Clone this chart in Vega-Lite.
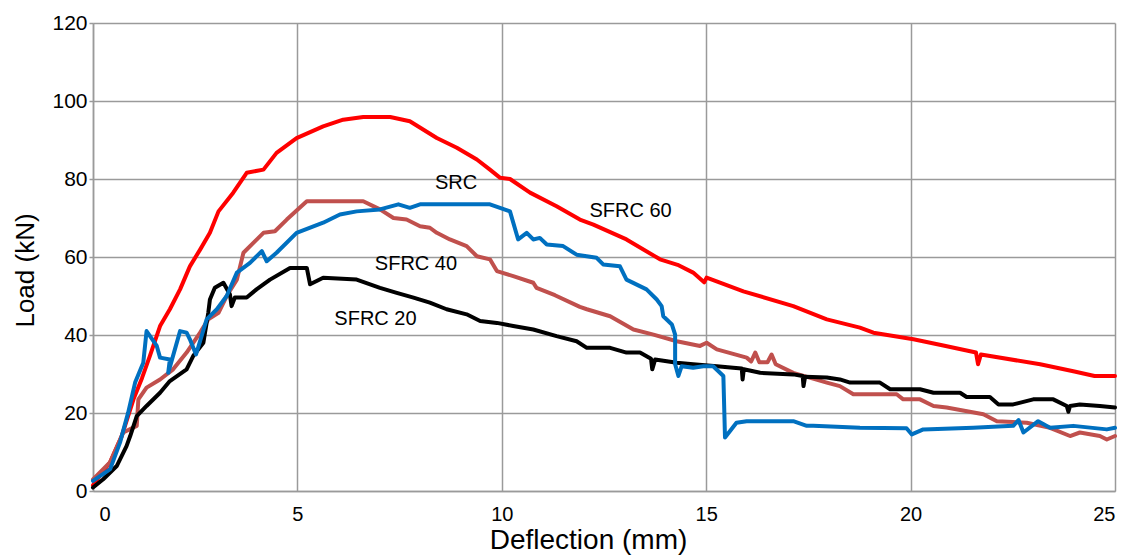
{
  "$schema": "https://vega.github.io/schema/vega-lite/v6.json",
  "autosize": "none",
  "width": 1022,
  "height": 468,
  "padding": {"left": 93, "top": 23, "right": 18, "bottom": 64},
  "background": "white",
  "config": {
    "view": {"stroke": null},
    "font": "Liberation Sans",
    "axis": {
      "labelFont": "Liberation Sans",
      "titleFont": "Liberation Sans",
      "labelColor": "#000000",
      "titleColor": "#000000",
      "titleFontWeight": "normal",
      "gridColor": "#9a9a9a",
      "gridWidth": 1.5,
      "gridOpacity": 1,
      "domainColor": "#9a9a9a",
      "domainWidth": 1.5,
      "tickColor": "#9a9a9a",
      "tickWidth": 1.5
    }
  },
  "datasets": {
    "curves": [
      {"s": "SFRC 60", "x": 0, "y": 1.5}, {"s": "SFRC 60", "x": 0.42, "y": 7.4}, {"s": "SFRC 60", "x": 0.7, "y": 14}, {"s": "SFRC 60", "x": 0.99, "y": 23.5}, {"s": "SFRC 60", "x": 1.2, "y": 29}, {"s": "SFRC 60", "x": 1.39, "y": 34.6}, {"s": "SFRC 60", "x": 1.64, "y": 42.3}, {"s": "SFRC 60", "x": 1.88, "y": 46.6}, {"s": "SFRC 60", "x": 2.13, "y": 51.7}, {"s": "SFRC 60", "x": 2.37, "y": 57.6}, {"s": "SFRC 60", "x": 2.62, "y": 61.9}, {"s": "SFRC 60", "x": 2.86, "y": 66.2}, {"s": "SFRC 60", "x": 3.07, "y": 71.7}, {"s": "SFRC 60", "x": 3.43, "y": 76.5}, {"s": "SFRC 60", "x": 3.76, "y": 81.6}, {"s": "SFRC 60", "x": 4.17, "y": 82.4}, {"s": "SFRC 60", "x": 4.49, "y": 86.7}, {"s": "SFRC 60", "x": 4.98, "y": 90.5}, {"s": "SFRC 60", "x": 5.63, "y": 93.5}, {"s": "SFRC 60", "x": 6.12, "y": 95.2}, {"s": "SFRC 60", "x": 6.61, "y": 95.9}, {"s": "SFRC 60", "x": 7.27, "y": 95.9}, {"s": "SFRC 60", "x": 7.75, "y": 94.8}, {"s": "SFRC 60", "x": 8.41, "y": 90.5}, {"s": "SFRC 60", "x": 8.9, "y": 88.0}, {"s": "SFRC 60", "x": 9.39, "y": 85.0}, {"s": "SFRC 60", "x": 9.71, "y": 82.4}, {"s": "SFRC 60", "x": 9.96, "y": 80.3}, {"s": "SFRC 60", "x": 10.2, "y": 80.0}, {"s": "SFRC 60", "x": 10.69, "y": 76.5}, {"s": "SFRC 60", "x": 11.34, "y": 73.0}, {"s": "SFRC 60", "x": 11.91, "y": 69.6}, {"s": "SFRC 60", "x": 12.24, "y": 68.3}, {"s": "SFRC 60", "x": 13.05, "y": 64.5}, {"s": "SFRC 60", "x": 13.87, "y": 59.4}, {"s": "SFRC 60", "x": 14.3, "y": 58.0}, {"s": "SFRC 60", "x": 14.68, "y": 56.0}, {"s": "SFRC 60", "x": 14.95, "y": 53.5}, {"s": "SFRC 60", "x": 15.01, "y": 54.7}, {"s": "SFRC 60", "x": 15.91, "y": 51.2}, {"s": "SFRC 60", "x": 17.13, "y": 47.4}, {"s": "SFRC 60", "x": 17.95, "y": 44.0}, {"s": "SFRC 60", "x": 18.76, "y": 41.9}, {"s": "SFRC 60", "x": 19.09, "y": 40.6}, {"s": "SFRC 60", "x": 20.07, "y": 38.9}, {"s": "SFRC 60", "x": 20.8, "y": 37.3}, {"s": "SFRC 60", "x": 21.6, "y": 35.5}, {"s": "SFRC 60", "x": 21.65, "y": 32.5}, {"s": "SFRC 60", "x": 21.72, "y": 35.0}, {"s": "SFRC 60", "x": 23.17, "y": 32.5}, {"s": "SFRC 60", "x": 23.98, "y": 30.7}, {"s": "SFRC 60", "x": 24.5, "y": 29.5}, {"s": "SFRC 60", "x": 25.0, "y": 29.5},

      {"s": "SFRC 40", "x": 0, "y": 3.0}, {"s": "SFRC 40", "x": 0.42, "y": 7.4}, {"s": "SFRC 40", "x": 0.74, "y": 15.0}, {"s": "SFRC 40", "x": 1.07, "y": 16.7}, {"s": "SFRC 40", "x": 1.11, "y": 23.5}, {"s": "SFRC 40", "x": 1.31, "y": 26.5}, {"s": "SFRC 40", "x": 1.64, "y": 28.6}, {"s": "SFRC 40", "x": 1.96, "y": 31.2}, {"s": "SFRC 40", "x": 2.29, "y": 35.5}, {"s": "SFRC 40", "x": 2.62, "y": 40.6}, {"s": "SFRC 40", "x": 2.82, "y": 44.0}, {"s": "SFRC 40", "x": 3.07, "y": 45.7}, {"s": "SFRC 40", "x": 3.27, "y": 50.0}, {"s": "SFRC 40", "x": 3.52, "y": 54.2}, {"s": "SFRC 40", "x": 3.68, "y": 61.1}, {"s": "SFRC 40", "x": 4.17, "y": 66.2}, {"s": "SFRC 40", "x": 4.45, "y": 66.6}, {"s": "SFRC 40", "x": 4.74, "y": 69.6}, {"s": "SFRC 40", "x": 5.23, "y": 74.3}, {"s": "SFRC 40", "x": 6.61, "y": 74.3}, {"s": "SFRC 40", "x": 7.02, "y": 72.2}, {"s": "SFRC 40", "x": 7.35, "y": 70.0}, {"s": "SFRC 40", "x": 7.67, "y": 69.6}, {"s": "SFRC 40", "x": 8.0, "y": 67.9}, {"s": "SFRC 40", "x": 8.24, "y": 67.5}, {"s": "SFRC 40", "x": 8.41, "y": 66.2}, {"s": "SFRC 40", "x": 8.73, "y": 64.5}, {"s": "SFRC 40", "x": 9.14, "y": 62.8}, {"s": "SFRC 40", "x": 9.39, "y": 60.2}, {"s": "SFRC 40", "x": 9.71, "y": 59.4}, {"s": "SFRC 40", "x": 9.88, "y": 56.4}, {"s": "SFRC 40", "x": 10.28, "y": 55.1}, {"s": "SFRC 40", "x": 10.77, "y": 53.4}, {"s": "SFRC 40", "x": 10.85, "y": 52.1}, {"s": "SFRC 40", "x": 11.3, "y": 50.2}, {"s": "SFRC 40", "x": 11.91, "y": 47.2}, {"s": "SFRC 40", "x": 12.08, "y": 46.6}, {"s": "SFRC 40", "x": 12.65, "y": 44.8}, {"s": "SFRC 40", "x": 13.22, "y": 41.4}, {"s": "SFRC 40", "x": 13.71, "y": 40.1}, {"s": "SFRC 40", "x": 14.28, "y": 38.4}, {"s": "SFRC 40", "x": 14.85, "y": 37.2}, {"s": "SFRC 40", "x": 15.01, "y": 38.0}, {"s": "SFRC 40", "x": 15.26, "y": 36.3}, {"s": "SFRC 40", "x": 15.99, "y": 34.2}, {"s": "SFRC 40", "x": 16.1, "y": 33.2}, {"s": "SFRC 40", "x": 16.2, "y": 35.5}, {"s": "SFRC 40", "x": 16.3, "y": 33.0}, {"s": "SFRC 40", "x": 16.5, "y": 33.0}, {"s": "SFRC 40", "x": 16.6, "y": 35.0}, {"s": "SFRC 40", "x": 16.7, "y": 32.5}, {"s": "SFRC 40", "x": 17.13, "y": 30.3}, {"s": "SFRC 40", "x": 17.95, "y": 27.8}, {"s": "SFRC 40", "x": 18.27, "y": 26.9}, {"s": "SFRC 40", "x": 18.6, "y": 24.8}, {"s": "SFRC 40", "x": 19.66, "y": 24.8}, {"s": "SFRC 40", "x": 19.82, "y": 23.5}, {"s": "SFRC 40", "x": 20.23, "y": 23.5}, {"s": "SFRC 40", "x": 20.56, "y": 21.8}, {"s": "SFRC 40", "x": 20.88, "y": 21.4}, {"s": "SFRC 40", "x": 21.78, "y": 19.7}, {"s": "SFRC 40", "x": 22.11, "y": 17.9}, {"s": "SFRC 40", "x": 22.84, "y": 17.5}, {"s": "SFRC 40", "x": 23.41, "y": 16.2}, {"s": "SFRC 40", "x": 23.9, "y": 14.1}, {"s": "SFRC 40", "x": 24.14, "y": 15.0}, {"s": "SFRC 40", "x": 24.63, "y": 14.1}, {"s": "SFRC 40", "x": 24.8, "y": 13.2}, {"s": "SFRC 40", "x": 25.0, "y": 14.1},

      {"s": "SFRC 20", "x": 0, "y": 0.9}, {"s": "SFRC 20", "x": 0.25, "y": 3.0}, {"s": "SFRC 20", "x": 0.58, "y": 6.4}, {"s": "SFRC 20", "x": 0.82, "y": 11.5}, {"s": "SFRC 20", "x": 0.91, "y": 14.1}, {"s": "SFRC 20", "x": 1.07, "y": 19.2}, {"s": "SFRC 20", "x": 1.31, "y": 21.8}, {"s": "SFRC 20", "x": 1.64, "y": 25.2}, {"s": "SFRC 20", "x": 1.88, "y": 28.2}, {"s": "SFRC 20", "x": 2.29, "y": 31.2}, {"s": "SFRC 20", "x": 2.45, "y": 34.6}, {"s": "SFRC 20", "x": 2.7, "y": 38.0}, {"s": "SFRC 20", "x": 2.82, "y": 45.7}, {"s": "SFRC 20", "x": 2.86, "y": 49.1}, {"s": "SFRC 20", "x": 2.98, "y": 52.1}, {"s": "SFRC 20", "x": 3.19, "y": 53.4}, {"s": "SFRC 20", "x": 3.35, "y": 50.4}, {"s": "SFRC 20", "x": 3.39, "y": 47.4}, {"s": "SFRC 20", "x": 3.47, "y": 49.6}, {"s": "SFRC 20", "x": 3.76, "y": 49.6}, {"s": "SFRC 20", "x": 4.0, "y": 51.7}, {"s": "SFRC 20", "x": 4.33, "y": 54.2}, {"s": "SFRC 20", "x": 4.82, "y": 57.2}, {"s": "SFRC 20", "x": 5.23, "y": 57.2}, {"s": "SFRC 20", "x": 5.31, "y": 53.0}, {"s": "SFRC 20", "x": 5.63, "y": 54.7}, {"s": "SFRC 20", "x": 6.45, "y": 54.2}, {"s": "SFRC 20", "x": 7.02, "y": 52.1}, {"s": "SFRC 20", "x": 7.43, "y": 50.8}, {"s": "SFRC 20", "x": 7.84, "y": 49.6}, {"s": "SFRC 20", "x": 8.24, "y": 48.3}, {"s": "SFRC 20", "x": 8.65, "y": 46.6}, {"s": "SFRC 20", "x": 9.14, "y": 45.3}, {"s": "SFRC 20", "x": 9.47, "y": 43.6}, {"s": "SFRC 20", "x": 9.88, "y": 43.1}, {"s": "SFRC 20", "x": 10.28, "y": 42.3}, {"s": "SFRC 20", "x": 10.77, "y": 41.4}, {"s": "SFRC 20", "x": 11.34, "y": 39.7}, {"s": "SFRC 20", "x": 11.83, "y": 38.4}, {"s": "SFRC 20", "x": 12.08, "y": 36.7}, {"s": "SFRC 20", "x": 12.65, "y": 36.7}, {"s": "SFRC 20", "x": 13.05, "y": 35.5}, {"s": "SFRC 20", "x": 13.38, "y": 35.5}, {"s": "SFRC 20", "x": 13.65, "y": 33.9}, {"s": "SFRC 20", "x": 13.68, "y": 31.2}, {"s": "SFRC 20", "x": 13.75, "y": 33.7}, {"s": "SFRC 20", "x": 14.28, "y": 32.9}, {"s": "SFRC 20", "x": 14.68, "y": 32.5}, {"s": "SFRC 20", "x": 15.26, "y": 32.0}, {"s": "SFRC 20", "x": 15.66, "y": 31.6}, {"s": "SFRC 20", "x": 15.87, "y": 31.4}, {"s": "SFRC 20", "x": 15.89, "y": 28.6}, {"s": "SFRC 20", "x": 15.92, "y": 31.2}, {"s": "SFRC 20", "x": 16.32, "y": 30.3}, {"s": "SFRC 20", "x": 17.13, "y": 29.9}, {"s": "SFRC 20", "x": 17.36, "y": 29.5}, {"s": "SFRC 20", "x": 17.38, "y": 26.9}, {"s": "SFRC 20", "x": 17.42, "y": 29.3}, {"s": "SFRC 20", "x": 17.95, "y": 29.1}, {"s": "SFRC 20", "x": 18.27, "y": 28.6}, {"s": "SFRC 20", "x": 18.52, "y": 27.8}, {"s": "SFRC 20", "x": 19.25, "y": 27.8}, {"s": "SFRC 20", "x": 19.5, "y": 26.1}, {"s": "SFRC 20", "x": 20.23, "y": 26.1}, {"s": "SFRC 20", "x": 20.56, "y": 25.2}, {"s": "SFRC 20", "x": 21.21, "y": 25.2}, {"s": "SFRC 20", "x": 21.37, "y": 24.1}, {"s": "SFRC 20", "x": 21.94, "y": 24.1}, {"s": "SFRC 20", "x": 22.15, "y": 22.2}, {"s": "SFRC 20", "x": 22.51, "y": 22.2}, {"s": "SFRC 20", "x": 23.0, "y": 23.5}, {"s": "SFRC 20", "x": 23.49, "y": 23.5}, {"s": "SFRC 20", "x": 23.82, "y": 21.8}, {"s": "SFRC 20", "x": 23.86, "y": 20.3}, {"s": "SFRC 20", "x": 23.9, "y": 21.8}, {"s": "SFRC 20", "x": 24.14, "y": 22.2}, {"s": "SFRC 20", "x": 24.63, "y": 21.8}, {"s": "SFRC 20", "x": 25.0, "y": 21.4},

      {"s": "SRC", "x": 0, "y": 2.6}, {"s": "SRC", "x": 0.42, "y": 5.6}, {"s": "SRC", "x": 0.66, "y": 12.4}, {"s": "SRC", "x": 0.86, "y": 20.1}, {"s": "SRC", "x": 1.03, "y": 27.8}, {"s": "SRC", "x": 1.23, "y": 32.9}, {"s": "SRC", "x": 1.31, "y": 41.0}, {"s": "SRC", "x": 1.56, "y": 37.2}, {"s": "SRC", "x": 1.64, "y": 34.2}, {"s": "SRC", "x": 1.88, "y": 33.7}, {"s": "SRC", "x": 1.84, "y": 30.3}, {"s": "SRC", "x": 2.13, "y": 41.0}, {"s": "SRC", "x": 2.29, "y": 40.6}, {"s": "SRC", "x": 2.37, "y": 38.9}, {"s": "SRC", "x": 2.52, "y": 35.0}, {"s": "SRC", "x": 2.78, "y": 44.0}, {"s": "SRC", "x": 3.03, "y": 46.6}, {"s": "SRC", "x": 3.27, "y": 50.0}, {"s": "SRC", "x": 3.52, "y": 56.0}, {"s": "SRC", "x": 3.84, "y": 58.5}, {"s": "SRC", "x": 4.13, "y": 61.5}, {"s": "SRC", "x": 4.25, "y": 58.9}, {"s": "SRC", "x": 4.49, "y": 61.1}, {"s": "SRC", "x": 4.98, "y": 66.2}, {"s": "SRC", "x": 5.63, "y": 68.8}, {"s": "SRC", "x": 6.04, "y": 70.9}, {"s": "SRC", "x": 6.45, "y": 71.7}, {"s": "SRC", "x": 7.02, "y": 72.2}, {"s": "SRC", "x": 7.47, "y": 73.5}, {"s": "SRC", "x": 7.75, "y": 72.6}, {"s": "SRC", "x": 8.0, "y": 73.5}, {"s": "SRC", "x": 9.71, "y": 73.5}, {"s": "SRC", "x": 10.2, "y": 71.7}, {"s": "SRC", "x": 10.4, "y": 64.5}, {"s": "SRC", "x": 10.61, "y": 66.2}, {"s": "SRC", "x": 10.77, "y": 64.5}, {"s": "SRC", "x": 10.93, "y": 64.9}, {"s": "SRC", "x": 11.1, "y": 63.2}, {"s": "SRC", "x": 11.5, "y": 62.8}, {"s": "SRC", "x": 11.83, "y": 60.6}, {"s": "SRC", "x": 12.32, "y": 59.8}, {"s": "SRC", "x": 12.48, "y": 58.1}, {"s": "SRC", "x": 12.89, "y": 57.6}, {"s": "SRC", "x": 13.05, "y": 54.2}, {"s": "SRC", "x": 13.54, "y": 51.7}, {"s": "SRC", "x": 13.79, "y": 49.1}, {"s": "SRC", "x": 13.91, "y": 47.4}, {"s": "SRC", "x": 13.95, "y": 44.8}, {"s": "SRC", "x": 14.16, "y": 42.7}, {"s": "SRC", "x": 14.24, "y": 40.1}, {"s": "SRC", "x": 14.24, "y": 32.5}, {"s": "SRC", "x": 14.32, "y": 29.5}, {"s": "SRC", "x": 14.4, "y": 32.0}, {"s": "SRC", "x": 14.68, "y": 31.6}, {"s": "SRC", "x": 14.93, "y": 32.0}, {"s": "SRC", "x": 15.17, "y": 32.0}, {"s": "SRC", "x": 15.42, "y": 29.5}, {"s": "SRC", "x": 15.46, "y": 13.7}, {"s": "SRC", "x": 15.74, "y": 17.5}, {"s": "SRC", "x": 15.99, "y": 17.9}, {"s": "SRC", "x": 17.13, "y": 17.9}, {"s": "SRC", "x": 17.46, "y": 16.7}, {"s": "SRC", "x": 17.62, "y": 16.7}, {"s": "SRC", "x": 18.76, "y": 16.2}, {"s": "SRC", "x": 19.9, "y": 16.1}, {"s": "SRC", "x": 20.03, "y": 14.5}, {"s": "SRC", "x": 20.31, "y": 15.8}, {"s": "SRC", "x": 21.53, "y": 16.2}, {"s": "SRC", "x": 22.51, "y": 16.7}, {"s": "SRC", "x": 22.64, "y": 18.2}, {"s": "SRC", "x": 22.76, "y": 15.0}, {"s": "SRC", "x": 23.12, "y": 17.9}, {"s": "SRC", "x": 23.41, "y": 16.2}, {"s": "SRC", "x": 23.98, "y": 16.7}, {"s": "SRC", "x": 24.8, "y": 15.8}, {"s": "SRC", "x": 25.0, "y": 16.2}
    ],
    "labels": [
      {"label": "SRC", "x": 8.88, "y": 79.1},
      {"label": "SFRC 60", "x": 13.15, "y": 71.7},
      {"label": "SFRC 40", "x": 7.9, "y": 58.2},
      {"label": "SFRC 20", "x": 6.91, "y": 44.1}
    ]
  },
  "encoding": {
    "x": {
      "field": "x", "type": "quantitative",
      "scale": {"domain": [0, 25], "nice": false, "zero": false},
      "axis": {
        "title": "Deflection (mm)",
        "values": [0, 5, 10, 15, 20, 25],
        "labelFontSize": 20,
        "labelBaseline": "alphabetic",
        "labelPadding": 29,
        "ticks": false,
        "tickSize": 0,
        "labelOffset": {"condition": {"test": "datum.value === 0", "value": 6}, "value": 0},
        "titleFontSize": 28,
        "titleBaseline": "alphabetic",
        "titleX": 495,
        "titleY": 57,
        "titleAnchor": null,
        "titleAlign": "center"
      }
    },
    "y": {
      "field": "y", "type": "quantitative",
      "scale": {"domain": [0, 120], "nice": false},
      "axis": {
        "title": "Load (kN)",
        "values": [0, 20, 40, 60, 80, 100, 120],
        "labelFontSize": 21,
        "labelPadding": 2,
        "tickSize": 4,
        "titleFontSize": 26,
        "titleAngle": -90,
        "titleBaseline": "alphabetic",
        "titleAlign": "center",
        "titleX": -60,
        "titleY": 247
      }
    }
  },
  "layer": [
    {
      "data": {"name": "curves"},
      "transform": [{"filter": "datum.s === 'SFRC 60'"}],
      "mark": {"type": "line", "color": "#FF0000", "strokeWidth": 4, "strokeJoin": "round", "strokeCap": "round"},
      "encoding": {"order": {"value": null}}
    },
    {
      "data": {"name": "curves"},
      "transform": [{"filter": "datum.s === 'SFRC 40'"}],
      "mark": {"type": "line", "color": "#C0504D", "strokeWidth": 4, "strokeJoin": "round", "strokeCap": "round"},
      "encoding": {"order": {"value": null}}
    },
    {
      "data": {"name": "curves"},
      "transform": [{"filter": "datum.s === 'SFRC 20'"}],
      "mark": {"type": "line", "color": "#000000", "strokeWidth": 4, "strokeJoin": "round", "strokeCap": "round"},
      "encoding": {"order": {"value": null}}
    },
    {
      "data": {"name": "curves"},
      "transform": [{"filter": "datum.s === 'SRC'"}],
      "mark": {"type": "line", "color": "#0070C0", "strokeWidth": 4, "strokeJoin": "round", "strokeCap": "round"},
      "encoding": {"order": {"value": null}}
    },
    {
      "data": {"name": "labels"},
      "mark": {"type": "text", "font": "Liberation Sans", "fontSize": 20, "color": "#000000", "align": "center", "baseline": "middle"},
      "encoding": {"text": {"field": "label"}}
    }
  ]
}
